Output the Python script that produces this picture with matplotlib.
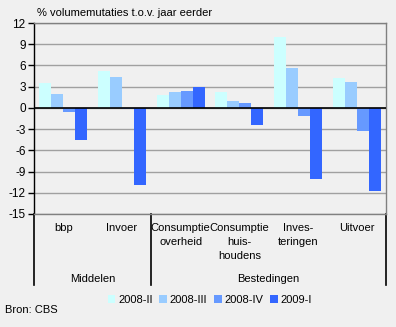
import matplotlib
matplotlib.use("Agg")
import matplotlib.pyplot as plt
import numpy as np
from matplotlib.patches import Patch

plt.rcParams['font.family'] = ['Liberation Sans', 'DejaVu Sans']

categories = ["bbp", "Invoer", "Consumptie\noverheid", "Consumptie\nhuis-\nhoudens", "Inves-\nteringen", "Uitvoer"]
groups = ["Middelen", "Bestedingen"]
series = ["2008-II", "2008-III", "2008-IV", "2009-I"]
v_2008_II = [3.5, 5.2, 1.85, 2.3, 10.0, 4.25]
v_2008_III = [2.0, 4.4, 2.3, 1.0, 5.7, 3.7]
v_2008_IV = [-0.55, -0.2, 2.45, 0.7, -1.1, -3.2]
v_2009_I = [-4.5, -10.9, 2.9, -2.4, -10.05, -11.7]
colors = ["#CCFFFF", "#99CCFF", "#6699FF", "#3366FF"]
yticks = [12, 9, 6, 3, 0, -3, -6, -9, -12, -15]

values = [v_2008_II, v_2008_III, v_2008_IV, v_2009_I]
FS = 8

fig = plt.figure(figsize=(3.96, 3.27), dpi=100, facecolor="#F0F0F0")
ax = fig.add_axes([34/396, 1-214/327, 352/396, 191/327])
ax.set_facecolor("#F0F0F0")

x = np.arange(len(categories))
w = 0.205
for i, (vals, c) in enumerate(zip(values, colors)):
    ax.bar(x + (i - 1.5) * w, vals, width=w, color=c, zorder=3, linewidth=0)

ax.set_xlim(-0.5, len(categories) - 0.5)
ax.set_ylim(-15, 12)
ax.set_yticks(yticks)
ax.set_yticklabels([str(t) for t in yticks], fontsize=FS + 0.5)
ax.yaxis.grid(True, color="#A0A0A0", linewidth=1, zorder=1)
ax.axhline(0, color="black", linewidth=1.2, zorder=4)
ax.tick_params(axis='y', length=4, width=1, direction='out', pad=2)
ax.set_xticks([])

for s in ["top", "right", "bottom"]:
    ax.spines[s].set_color("#808080")
    ax.spines[s].set_linewidth(1)
ax.spines["left"].set_color("black")
ax.spines["left"].set_linewidth(1)

tr = ax.get_xaxis_transform()
for xs in [-0.5, 1.5, 5.5]:
    ax.plot([xs, xs], [0, -0.372], color="black", linewidth=1.2, transform=tr, clip_on=False)

for xi, lab in zip(x, categories):
    ax.text(xi, -0.045, lab, transform=tr, ha="center", va="top", fontsize=FS, linespacing=1.5)

ax.text(0.5, -0.338, groups[0], transform=tr, ha="center", va="center", fontsize=FS)
ax.text(3.5, -0.338, groups[1], transform=tr, ha="center", va="center", fontsize=FS)

fig.text(37/396, 1-13/327, "% volumemutaties t.o.v. jaar eerder", ha="left", va="center", fontsize=FS)
fig.text(5/396, 1-310/327, "Bron: CBS", ha="left", va="center", fontsize=FS)

handles = [Patch(facecolor=c, edgecolor="none", label=s) for s, c in zip(series, colors)]
fig.legend(handles=handles, loc="center", bbox_to_anchor=(0.53, 1-300/327), ncol=4, frameon=False,
           fontsize=FS, handlelength=0.7, handleheight=0.7, handletextpad=0.25, columnspacing=0.6)

fig.savefig("out.png", dpi=100, facecolor=fig.get_facecolor())
